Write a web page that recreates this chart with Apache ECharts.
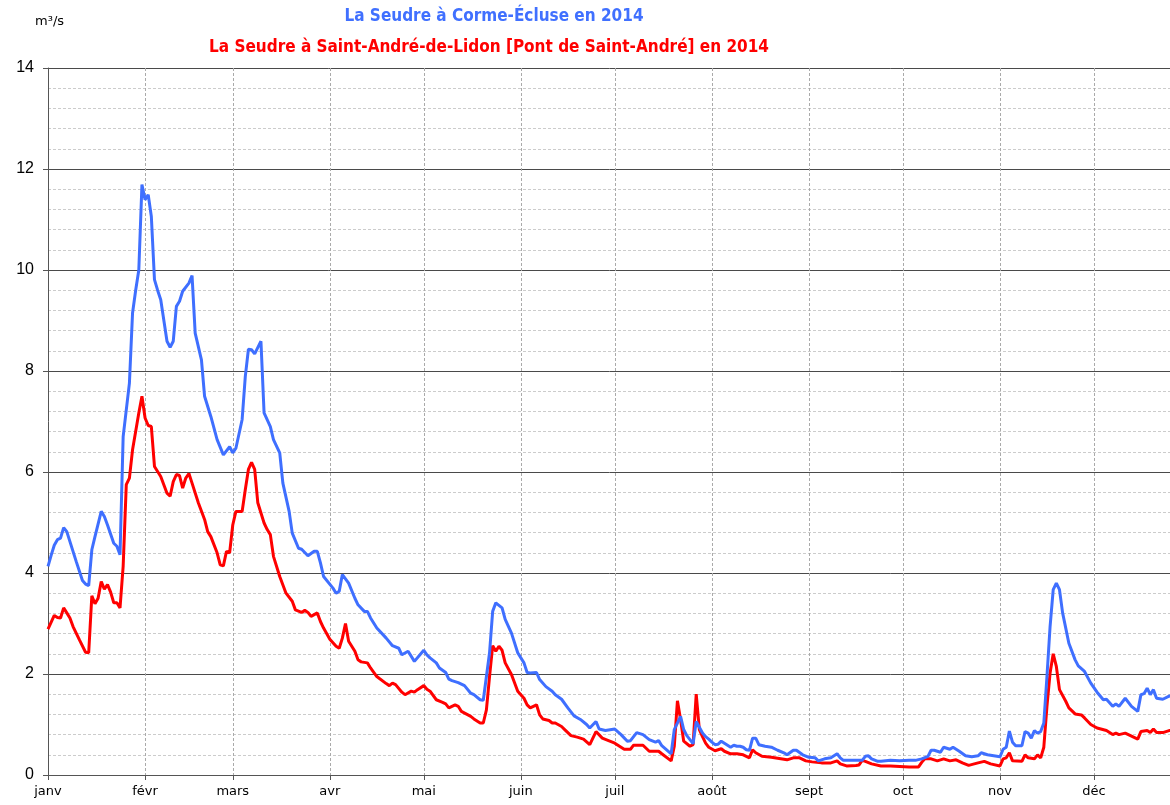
<!DOCTYPE html>
<html>
<head>
<meta charset="utf-8">
<style>
  html, body { margin: 0; padding: 0; background: #fff; }
  #chart { width: 1170px; height: 805px; }
</style>
<script src="https://cdn.jsdelivr.net/npm/echarts@6/dist/echarts.min.js"></script>
</head>
<body>
<div id="chart"></div>
<script>
// Daily discharge (m³/s) of the Seudre in 2014, day index 0 = 1 January.
const monthNames = ['janv', 'févr', 'mars', 'avr', 'mai', 'juin', 'juil', 'août', 'sept', 'oct', 'nov', 'déc'];

const cormeTitle = 'La Seudre à Corme-Écluse en 2014';
const lidonTitle = 'La Seudre à Saint-André-de-Lidon [Pont de Saint-André] en 2014';
const unitLabel = 'm³/s';

// Corme-Écluse
const cormeDays = [
  0, 1, 2, 3, 4, 5, 6, 9, 11, 12, 13, 14, 15, 17, 18, 19, 21, 22, 23, 24,
  26, 27, 28, 29, 30, 31, 32, 33, 34, 35, 36, 37, 38, 39, 40, 41, 42, 43, 45, 46,
  47, 49, 50, 52, 54, 56, 58, 59, 60, 62, 63, 64, 65, 66, 68, 69, 71, 72, 74, 75,
  77, 78, 80, 81, 83, 85, 86, 87, 88, 91, 92, 93, 94, 96, 98, 99, 101, 102, 103, 105,
  108, 110, 112, 113, 115, 117, 120, 121, 122, 124, 125, 127, 128, 129, 131, 133, 135, 136, 138, 139,
  141, 142, 143, 145, 146, 148, 150, 152, 153, 154, 156, 157, 159, 161, 162, 164, 166, 168, 170, 172,
  173, 175, 176, 178, 181, 183, 185, 186, 188, 190, 192, 194, 195, 196, 199, 200, 202, 203, 204, 206,
  207, 209, 210, 211, 212, 213, 214, 215, 216, 218, 219, 220, 221, 222, 223, 224, 225, 226, 227, 229,
  231, 233, 235, 236, 238, 239, 241, 243, 245, 246, 248, 250, 252, 253, 254, 257, 260, 261, 262, 263,
  265, 266, 269, 272, 275, 277, 279, 281, 282, 283, 285, 286, 288, 289, 291, 293, 295, 297, 298, 300,
  302, 304, 305, 306, 307, 308, 309, 311, 312, 313, 314, 315, 316, 317, 318, 319, 320, 321, 322, 323,
  324, 326, 328, 329, 331, 333, 335, 337, 338, 340, 341, 342, 344, 346, 348, 349, 350, 351, 352, 353,
  354, 356, 358, 359
];
const cormeFlow = [
  4.13, 4.35, 4.55, 4.66, 4.69, 4.90, 4.82, 4.23, 3.85, 3.78, 3.75, 4.46, 4.72, 5.22, 5.12, 4.95, 4.59, 4.53, 4.36, 6.70,
  7.76, 9.15, 9.60, 10.0, 11.69, 11.39, 11.49, 11.06, 9.81, 9.60, 9.41, 9.00, 8.59, 8.47, 8.59, 9.28, 9.38, 9.58, 9.74, 9.89,
  8.75, 8.22, 7.50, 7.10, 6.64, 6.34, 6.50, 6.38, 6.47, 7.04, 7.89, 8.43, 8.42, 8.34, 8.59, 7.17, 6.90, 6.64, 6.38, 5.78,
  5.22, 4.79, 4.49, 4.47, 4.34, 4.43, 4.43, 4.20, 3.93, 3.70, 3.60, 3.64, 3.97, 3.80, 3.50, 3.37, 3.24, 3.24, 3.11, 2.91,
  2.71, 2.56, 2.51, 2.38, 2.45, 2.25, 2.47, 2.38, 2.32, 2.22, 2.12, 2.03, 1.90, 1.87, 1.83, 1.77, 1.62, 1.59, 1.49, 1.48,
  2.42, 3.24, 3.41, 3.31, 3.08, 2.81, 2.42, 2.22, 2.03, 2.02, 2.03, 1.89, 1.75, 1.66, 1.59, 1.50, 1.33, 1.17, 1.10, 1.00,
  0.93, 1.06, 0.91, 0.88, 0.91, 0.80, 0.67, 0.68, 0.84, 0.80, 0.70, 0.65, 0.68, 0.58, 0.42, 0.90, 1.16, 0.90, 0.78, 0.62,
  1.06, 0.83, 0.76, 0.71, 0.65, 0.60, 0.61, 0.67, 0.63, 0.55, 0.59, 0.57, 0.57, 0.55, 0.50, 0.49, 0.73, 0.73, 0.60, 0.57,
  0.55, 0.49, 0.44, 0.40, 0.49, 0.49, 0.40, 0.35, 0.34, 0.28, 0.32, 0.34, 0.42, 0.34, 0.29, 0.29, 0.29, 0.37, 0.38, 0.32,
  0.27, 0.27, 0.29, 0.28, 0.29, 0.29, 0.32, 0.37, 0.49, 0.49, 0.45, 0.55, 0.51, 0.55, 0.47, 0.38, 0.36, 0.38, 0.44, 0.40,
  0.38, 0.36, 0.51, 0.55, 0.87, 0.65, 0.58, 0.58, 0.86, 0.83, 0.73, 0.88, 0.83, 0.86, 1.03, 1.95, 2.94, 3.67, 3.80, 3.67,
  3.21, 2.61, 2.28, 2.16, 2.05, 1.82, 1.64, 1.49, 1.50, 1.36, 1.41, 1.36, 1.52, 1.36, 1.26, 1.59, 1.61, 1.72, 1.59, 1.69,
  1.52, 1.50, 1.56, 1.58
];

// Saint-André-de-Lidon
const lidonDays = [
  0, 2, 3, 4, 5, 6, 7, 8, 10, 12, 13, 14, 15, 16, 17, 18, 19, 20, 21, 22,
  23, 24, 25, 26, 27, 29, 30, 31, 32, 33, 34, 36, 38, 39, 40, 41, 42, 43, 44, 45,
  46, 48, 50, 51, 52, 54, 55, 56, 57, 58, 59, 60, 62, 63, 64, 65, 66, 67, 69, 70,
  71, 72, 74, 76, 78, 79, 81, 82, 83, 84, 86, 87, 88, 90, 92, 93, 94, 95, 96, 98,
  99, 100, 102, 103, 105, 108, 109, 110, 111, 113, 114, 116, 117, 118, 120, 121, 122, 124, 126, 127,
  128, 130, 131, 132, 135, 136, 138, 139, 140, 141, 142, 143, 144, 145, 146, 148, 150, 152, 153, 154,
  156, 157, 158, 160, 161, 162, 164, 165, 167, 169, 171, 173, 175, 177, 179, 181, 184, 186, 187, 190,
  192, 195, 196, 199, 200, 201, 202, 203, 205, 206, 207, 208, 209, 210, 211, 213, 215, 216, 218, 220,
  222, 223, 224, 225, 226, 228, 231, 234, 236, 238, 240, 242, 244, 247, 250, 252, 253, 255, 258, 259,
  260, 261, 263, 266, 269, 272, 275, 278, 279, 280, 282, 284, 286, 288, 290, 292, 294, 297, 299, 301,
  304, 305, 306, 307, 308, 311, 312, 313, 315, 316, 317, 318, 319, 320, 321, 322, 323, 325, 326, 328,
  330, 331, 333, 335, 338, 340, 341, 342, 344, 348, 349, 351, 352, 353, 354, 356, 358, 359
];
const lidonFlow = [
  2.89, 3.16, 3.12, 3.11, 3.31, 3.21, 3.11, 2.94, 2.68, 2.43, 2.42, 3.55, 3.39, 3.50, 3.83, 3.68, 3.77, 3.62, 3.41, 3.41,
  3.31, 4.13, 5.75, 5.88, 6.44, 7.17, 7.50, 7.07, 6.92, 6.90, 6.11, 5.91, 5.58, 5.52, 5.81, 5.95, 5.93, 5.68, 5.88, 5.97,
  5.78, 5.39, 5.06, 4.82, 4.72, 4.40, 4.16, 4.14, 4.43, 4.40, 4.95, 5.22, 5.22, 5.65, 6.05, 6.19, 6.05, 5.39, 4.99, 4.86,
  4.76, 4.33, 3.93, 3.60, 3.44, 3.27, 3.22, 3.26, 3.22, 3.14, 3.21, 3.04, 2.91, 2.69, 2.55, 2.51, 2.71, 3.00, 2.65, 2.45,
  2.28, 2.24, 2.22, 2.12, 1.95, 1.81, 1.77, 1.82, 1.79, 1.64, 1.59, 1.66, 1.64, 1.69, 1.77, 1.70, 1.66, 1.49, 1.44, 1.41,
  1.33, 1.39, 1.36, 1.26, 1.16, 1.11, 1.03, 1.03, 1.29, 1.95, 2.56, 2.45, 2.55, 2.47, 2.22, 1.99, 1.66, 1.52, 1.39, 1.33,
  1.39, 1.19, 1.11, 1.08, 1.03, 1.03, 0.96, 0.90, 0.78, 0.75, 0.71, 0.60, 0.86, 0.73, 0.68, 0.63, 0.51, 0.51, 0.59, 0.59,
  0.47, 0.47, 0.42, 0.28, 0.57, 1.47, 1.10, 0.67, 0.57, 0.60, 1.60, 0.90, 0.76, 0.63, 0.55, 0.48, 0.52, 0.47, 0.42, 0.42,
  0.40, 0.37, 0.34, 0.50, 0.44, 0.37, 0.35, 0.32, 0.30, 0.34, 0.34, 0.28, 0.26, 0.24, 0.24, 0.28, 0.22, 0.18, 0.19, 0.20,
  0.29, 0.27, 0.22, 0.18, 0.18, 0.17, 0.16, 0.16, 0.25, 0.32, 0.32, 0.28, 0.32, 0.28, 0.30, 0.24, 0.19, 0.24, 0.27, 0.22,
  0.18, 0.32, 0.34, 0.44, 0.28, 0.27, 0.40, 0.34, 0.32, 0.40, 0.34, 0.55, 1.36, 2.02, 2.40, 2.15, 1.69, 1.46, 1.33, 1.21,
  1.19, 1.13, 1.00, 0.93, 0.88, 0.80, 0.83, 0.80, 0.83, 0.71, 0.86, 0.88, 0.84, 0.91, 0.84, 0.84, 0.88, 0.88
];

// y axis ticks: 0 to 14 every 2
const flowMin = 0;
const flowMax = 14;
const flowStep = 2;

function toSeries(days, values) {
  return days.map((d, i) => [new Date(2014, 0, 1 + d).getTime(), values[i]]);
}

const chart = echarts.init(document.getElementById('chart'), null, { renderer: 'canvas' });

const option = {
  animation: false,
  backgroundColor: '#ffffff',
  // the full year runs a little past the right edge of the canvas
  grid: { left: 48, top: 68, width: 1143, bottom: 30, containLabel: false, outerBoundsMode: 'none' },
  graphic: [
    {
      type: 'text', left: 35, top: 15,
      style: { text: unitLabel, font: '13px "DejaVu Sans"', fill: '#000' }
    },
    {
      type: 'text', x: 494, y: 17,
      style: { text: cormeTitle, font: 'bold 17px "DejaVu Sans Condensed"', fill: '#4070ff', textAlign: 'center', textVerticalAlign: 'middle' }
    },
    {
      type: 'text', x: 489, y: 48,
      style: { text: lidonTitle, font: 'bold 17px "DejaVu Sans Condensed"', fill: '#ff0000', textAlign: 'center', textVerticalAlign: 'middle' }
    }
  ],
  xAxis: {
    type: 'time',
    min: new Date(2014, 0, 1).getTime(),
    max: new Date(2015, 0, 1).getTime(),
    splitNumber: 12,
    minInterval: 28 * 86400000,
    maxInterval: 31 * 86400000,
    axisLine: { show: true, lineStyle: { color: '#555', width: 1 } },
    axisTick: { show: true, length: 5, lineStyle: { color: '#555' } },
    axisLabel: {
      color: '#000',
      fontSize: 13,
      fontFamily: 'DejaVu Sans',
      margin: 10,
      hideOverlap: false,
      formatter: function (value) { return monthNames[new Date(value).getMonth()]; }
    },
    splitLine: { show: true, lineStyle: { color: '#aaa', type: [3, 2], width: 1 } }
  },
  yAxis: {
    type: 'value',
    min: flowMin,
    max: flowMax,
    interval: flowStep,
    axisLine: { show: true, lineStyle: { color: '#555', width: 1 } },
    axisTick: { show: true, length: 5, lineStyle: { color: '#555' } },
    axisLabel: { color: '#000', fontSize: 16, fontFamily: 'Liberation Sans', margin: 14 },
    splitLine: { show: true, lineStyle: { color: '#4a4a4a', width: 1 } },
    minorTick: { show: false, splitNumber: 5 },
    minorSplitLine: { show: true, lineStyle: { color: '#cccccc', type: [3, 2], width: 1 } }
  },
  series: [
    {
      name: lidonTitle,
      type: 'line',
      data: toSeries(lidonDays, lidonFlow),
      showSymbol: false,
      symbol: 'none',
      lineStyle: { color: '#ff0000', width: 3 },
      z: 2
    },
    {
      name: cormeTitle,
      type: 'line',
      data: toSeries(cormeDays, cormeFlow),
      showSymbol: false,
      symbol: 'none',
      lineStyle: { color: '#3f6fff', width: 3 },
      z: 3
    }
  ]
};

chart.setOption(option);
</script>
</body>
</html>
